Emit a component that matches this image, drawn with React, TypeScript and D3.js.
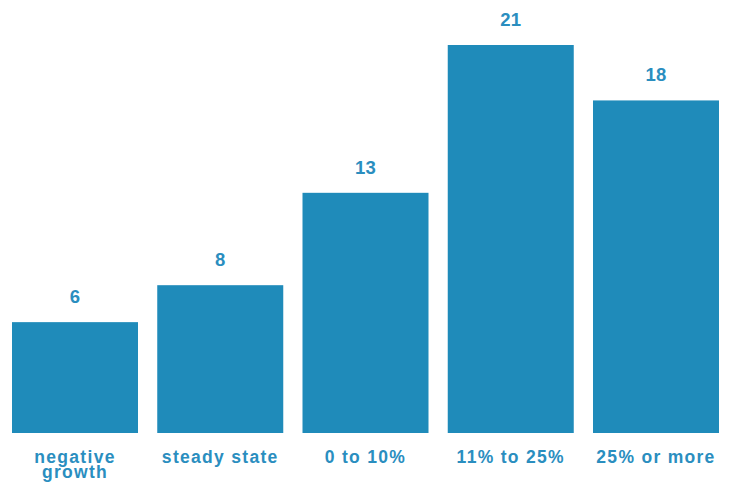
import React from "react";
import * as d3 from "d3";

const categories = ["negative growth", "steady state", "0 to 10%", "11% to 25%", "25% or more"];
const categoryLines = [["negative", "growth"], ["steady state"], ["0 to 10%"], ["11% to 25%"], ["25% or more"]];
const values = [6, 8, 13, 21, 18];

const W = 733;
const H = 482;
const BAR = "#1f8bba";
const TEXT = "#2a8ebf";
const FONT = "'Liberation Sans', Arial, Helvetica, sans-serif";

export default function App() {
  const x = d3.scaleBand<string>().domain(categories).range([12, 719]).paddingInner(0.1325).paddingOuter(0);
  const y = d3.scaleLinear().domain([0, 21]).range([433, 45]);
  return (
    <svg width={W} height={H} style={{ position: "absolute", left: 0, top: 0, background: "#fff" }}>
      {categories.map((c, i) => {
        const bx = x(c)!;
        const bw = x.bandwidth();
        const cx = bx + bw / 2;
        return (
          <g key={c}>
            <rect x={bx} y={y(values[i])} width={bw} height={y(0) - y(values[i])} fill={BAR} />
            <text x={cx} y={y(values[i]) - 19} textAnchor="middle" fill={TEXT} fontFamily={FONT} fontWeight="bold" fontSize={18.5} letterSpacing={0.3}>
              {values[i]}
            </text>
            <text x={cx} y={463} textAnchor="middle" fill={TEXT} fontFamily={FONT} fontWeight="bold" fontSize={17.5} letterSpacing={1.3}>
              {categoryLines[i].map((l, k) => (
                <tspan key={k} x={cx} dy={k === 0 ? 0 : 15}>{l}</tspan>
              ))}
            </text>
          </g>
        );
      })}
    </svg>
  );
}
